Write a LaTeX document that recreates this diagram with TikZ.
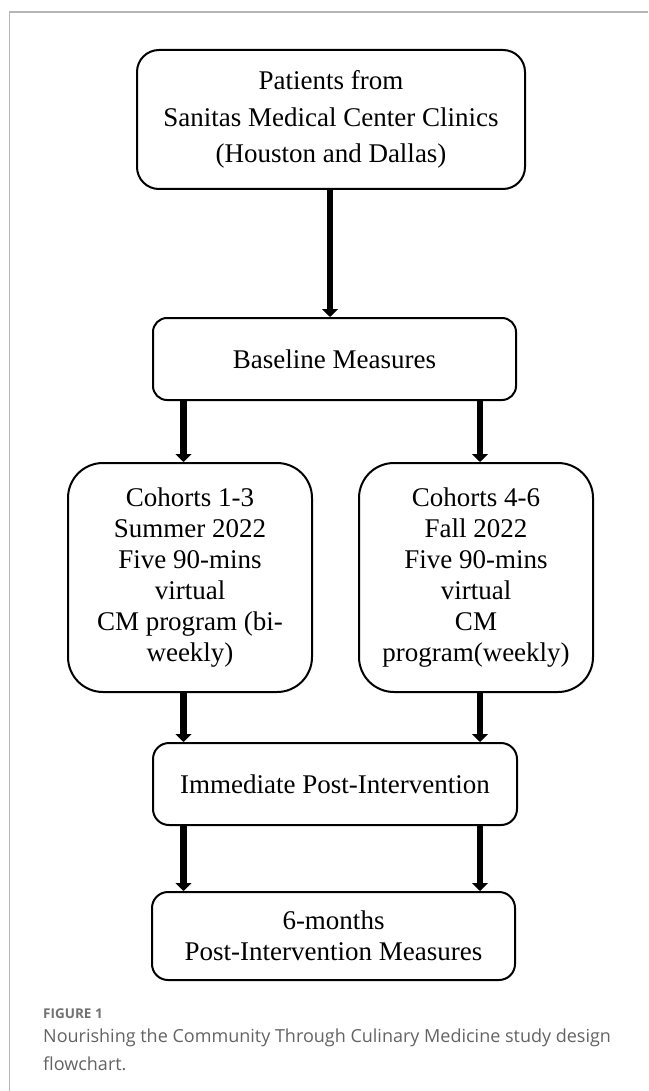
\documentclass[tikz,border=0pt]{standalone}
\usepackage{fontspec}
\usetikzlibrary{arrows.meta}
\newfontfamily\capfont{Open Sans}
\newfontfamily\boxserif{Liberation Serif}
\newcommand\palfont{\boxserif\fontsize{27}{31}\selectfont}
\definecolor{framegray}{HTML}{B5B5B5}
\definecolor{captiongray}{HTML}{636363}
\definecolor{labelgray}{HTML}{727272}
\tikzset{
  flowbox/.style={draw=black, line width=2pt, align=center, inner sep=0pt, font=\palfont},
  flowarrow/.style={line width=6.5pt, -{Triangle[width=16pt,length=8pt]}},
  frameline/.style={draw=framegray, line width=1.5pt},
  captext/.style={anchor=base west, inner sep=0pt, text=captiongray, font=\capfont\fontsize{18}{28}\selectfont},
}
\begin{document}
\begin{tikzpicture}[x=1pt,y=-1pt]
\useasboundingbox (0,0) rectangle (648,1091);
\draw[frameline] (9.5,1091) -- (9.5,12) -- (648,12);

\node[flowbox, minimum width=388pt, minimum height=139pt, rounded corners=22pt] (src) at (331,119.5)
  {Patients from\\[5.5pt] Sanitas Medical Center Clinics\\[5.5pt] (Houston and Dallas)};
\node[flowbox, minimum width=363pt, minimum height=82pt, rounded corners=14pt] (base) at (334.5,359)
  {Baseline Measures};
\node[flowbox, minimum width=244pt, minimum height=229pt, rounded corners=35pt] (coh1) at (190,577.5)
  {Cohorts 1-3\\ Summer 2022\\ Five 90-mins\\ virtual\\ CM program (bi-\\ weekly)};
\node[flowbox, minimum width=234pt, minimum height=229pt, rounded corners=35pt] (coh2) at (476,577.5)
  {Cohorts 4-6\\ Fall 2022\\ Five 90-mins\\ virtual\\ CM\\ program(weekly)};
\node[flowbox, minimum width=364pt, minimum height=82pt, rounded corners=16pt] (post) at (335,784)
  {Immediate Post-Intervention};
\node[flowbox, minimum width=363pt, minimum height=88pt, rounded corners=16pt] (six) at (333.5,936)
  {6-months\\ Post-Intervention Measures};

\coordinate (xa) at (330,0);
\coordinate (xl) at (183.5,0);
\coordinate (xr) at (480,0);
\draw[flowarrow] (src.south -| xa) -- (base.north -| xa);
\draw[flowarrow] (base.south -| xl) -- (coh1.north -| xl);
\draw[flowarrow] (base.south -| xr) -- (coh2.north -| xr);
\draw[flowarrow] (coh1.south -| xl) -- (post.north -| xl);
\draw[flowarrow] (coh2.south -| xr) -- (post.north -| xr);
\draw[flowarrow] (post.south -| xl) -- (six.north -| xl);
\draw[flowarrow] (post.south -| xr) -- (six.north -| xr);

\node[anchor=base west, inner sep=0pt, text=labelgray, font=\capfont\fontsize{13.5}{16}\selectfont\bfseries] (figlabel) at (43,1018) {FIGURE 1};
\node[captext] (cap1) at (43,1042) {Nourishing the Community Through Culinary Medicine study design};
\node[captext] (cap2) at (43,1070) {flowchart.};
\end{tikzpicture}
\end{document}
